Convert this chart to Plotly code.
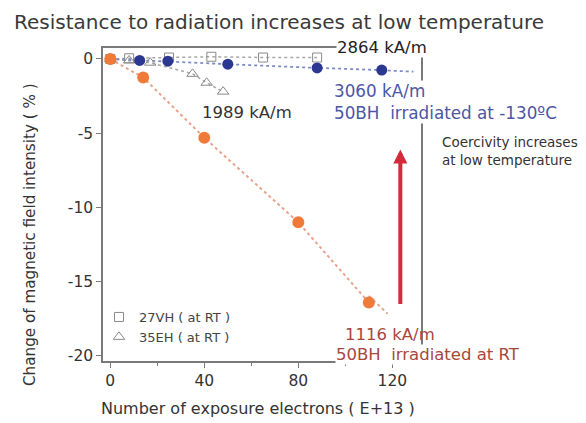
import numpy as np
import plotly.graph_objects as go

# ---- data ----
x_50bh_rt = [0, 14, 40, 80, 110]
y_50bh_rt = [0, -1.25, -5.3, -11.0, -16.4]

x_50bh_lt = [0, 12.5, 24.5, 50, 88, 115.5]
y_50bh_lt = [0, -0.1, -0.15, -0.35, -0.6, -0.75]

x_27vh = [0, 8, 25, 43, 65, 88]
y_27vh = [0, 0.05, 0.1, 0.15, 0.1, 0.1]

x_35eh = [0, 8, 17, 35, 41, 48]
y_35eh = [0, -0.1, -0.25, -1.0, -1.6, -2.2]

x_ticks = [0, 40, 80, 120]
y_ticks = [0, -5, -10, -15, -20]
y_ticktext = ["0", "-5", "-10", "-15", "-20"]

# ---- layout geometry ----
# the page body has an 8px margin, so the figure is drawn 8px in from the window corner
OFF = 8
WIN_W, WIN_H = 586, 423
W, H = WIN_W - OFF, WIN_H - OFF
PL, PR, PT, PB = 103, 421, 48, 361          # plot box in window pixels
L, T = PL - OFF, PT - OFF
R, B = W - (PR - OFF), H - (PB - OFF)
PW, PH = W - L - R, H - T - B

def px(x):   # window pixel -> paper x
    return (x - OFF - L) / PW

def py(y):   # window pixel -> paper y
    return (H - B - (y - OFF)) / PH

FONT = "DejaVu Sans, Verdana, sans-serif"
ORANGE = "#f07a3a"
BLUE = "#2c3791"
BLUE_TXT = "#4b56a6"
BRICK = "#a8473d"
GRAY = "#8a8a8a"

fig = go.Figure()

# trend extensions from linear fits of the data
fit_rt = np.polyfit(x_50bh_rt, y_50bh_rt, 1)
fit_lt = np.polyfit(x_50bh_lt, y_50bh_lt, 1)
ext_rt = np.array([x_50bh_rt[-1], 118])
ext_lt = np.array([x_50bh_lt[-1], 129])

fig.add_trace(go.Scatter(x=x_27vh, y=y_27vh, mode="lines",
                         line=dict(color="#a8a8a8", width=1.5, dash="dot"),
                         showlegend=False, hoverinfo="skip"))
fig.add_trace(go.Scatter(x=x_35eh, y=y_35eh, mode="lines",
                         line=dict(color="#a8a8a8", width=1.5, dash="dot"),
                         showlegend=False, hoverinfo="skip"))
fig.add_trace(go.Scatter(x=x_50bh_lt, y=y_50bh_lt, mode="lines",
                         line=dict(color="#7d8cc4", width=1.8, dash="dot"),
                         showlegend=False, hoverinfo="skip"))
fig.add_trace(go.Scatter(x=ext_lt, y=np.polyval(fit_lt, ext_lt), mode="lines",
                         line=dict(color="#7d8cc4", width=1.8, dash="dot"),
                         showlegend=False, hoverinfo="skip"))
fig.add_trace(go.Scatter(x=x_50bh_rt, y=y_50bh_rt, mode="lines",
                         line=dict(color="#e6a48c", width=2, dash="dot"),
                         showlegend=False, hoverinfo="skip"))
fig.add_trace(go.Scatter(x=ext_rt, y=np.polyval(fit_rt, ext_rt), mode="lines",
                         line=dict(color="#e6a48c", width=2, dash="dot"),
                         showlegend=False, hoverinfo="skip"))

fig.add_trace(go.Scatter(x=x_27vh, y=y_27vh, mode="markers", name="27VH ( at RT )",
                         marker=dict(symbol="square-open", size=9, color=GRAY,
                                     line=dict(width=1))))
fig.add_trace(go.Scatter(x=x_35eh, y=y_35eh, mode="markers", name="35EH ( at RT )",
                         marker=dict(symbol="triangle-up-open", size=10, color=GRAY,
                                     line=dict(width=1))))
fig.add_trace(go.Scatter(x=x_50bh_lt, y=y_50bh_lt, mode="markers", showlegend=False,
                         marker=dict(symbol="circle", size=11, color=BLUE)))
fig.add_trace(go.Scatter(x=x_50bh_rt, y=y_50bh_rt, mode="markers", showlegend=False,
                         marker=dict(symbol="circle", size=12, color=ORANGE)))

axis_common = dict(showline=True, linecolor="#7a7a7a", linewidth=1.5, mirror=True,
                   ticks="outside", ticklen=5, tickcolor="#7a7a7a", tickwidth=1.2,
                   showgrid=False, zeroline=False,
                   tickfont=dict(family=FONT, size=15.5, color="#333333"))

fig.update_layout(
    width=W, height=H,
    margin=dict(l=L, r=R, t=T, b=B, pad=0),
    paper_bgcolor="white", plot_bgcolor="white",
    font=dict(family=FONT, color="#333333"),
    xaxis=dict(range=[-3.1, 132.2], tickvals=x_ticks,
               minor=dict(dtick=20, tick0=0, ticks="outside", ticklen=3,
                          tickcolor="#7a7a7a"),
               **axis_common),
    yaxis=dict(range=[-20.34, 0.74], tickvals=y_ticks, ticktext=y_ticktext,
               **axis_common),
    showlegend=True,
    legend=dict(x=px(99), y=py(302), xanchor="left", yanchor="top",
                bgcolor="rgba(0,0,0,0)", font=dict(family=FONT, size=13, color="#444444"),
                itemwidth=30, tracegroupgap=0),
)

ann = []
def text(x, y, s, size=15, color="#333333", xanchor="left", bg=None, align="left",
         yanchor="middle"):
    d = dict(x=px(x), y=py(y), xref="paper", yref="paper", text=s, showarrow=False,
             xanchor=xanchor, yanchor=yanchor, align=align,
             font=dict(family=FONT, size=size, color=color))
    if bg:
        d.update(bgcolor=bg, borderpad=0)
    ann.append(d)

text(12, OFF, "Resistance to radiation increases at low temperature", size=20,
     color="#3a3a3a", yanchor="top")
text(258, 408, "Number of exposure electrons ( E+13 )", size=16, xanchor="center")
ann.append(dict(x=px(30), y=py(235), xref="paper", yref="paper",
                text="Change of magnetic field intensity ( % )", showarrow=False,
                textangle=-90, xanchor="center", yanchor="middle",
                font=dict(family=FONT, size=15.2, color="#333333")))
text(336, 47, "2864 kA/m", size=16.5, color="#222222", bg="white")
text(333, 102, "3060 kA/m<br>50BH  irradiated at -130ºC", size=16.8, color=BLUE_TXT,
     bg="white")
text(200, 112, "1989 kA/m", size=16.5, color="#333333")
text(440, 151, "Coercivity increases<br>at low temperature", size=13.5, color="#333333")
text(343, 334, "1116 kA/m", size=16.5, color=BRICK)
text(335, 354, "50BH  irradiated at RT", size=16.5, color=BRICK, bg="white")

# red arrow
ann.append(dict(x=123.4, y=-6.1, xref="x", yref="y", ax=123.4, ay=-16.6,
                axref="x", ayref="y", showarrow=True, text="",
                arrowhead=2, arrowsize=0.7, arrowwidth=4, arrowcolor="#d42a3c"))

fig.update_layout(annotations=ann)
fig.write_html("out.html")
